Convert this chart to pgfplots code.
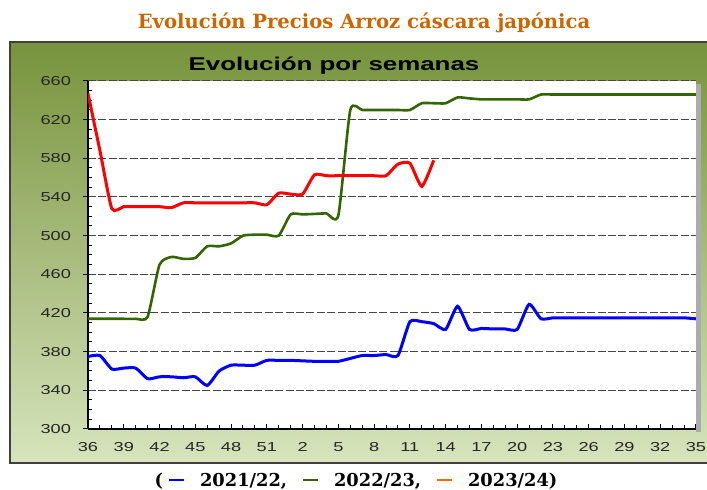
\documentclass[border=0pt]{standalone}
\usepackage{pgfplots}
\pgfplotsset{compat=1.18}
\usepackage{fontspec}
\newfontfamily\tickfont[FakeStretch=1.4]{Liberation Sans}
\newfontfamily\serifbold{DejaVu Serif}
\definecolor{olivetop}{RGB}{119,147,60}
\definecolor{olivebot}{RGB}{215,228,189}
\definecolor{titleor}{RGB}{204,102,0}
\definecolor{ser1}{RGB}{0,0,255}
\definecolor{ser2}{RGB}{51,102,0}
\definecolor{ser3}{RGB}{255,0,0}
\definecolor{legor}{RGB}{255,102,0}
\begin{document}
\begin{tikzpicture}
\begin{scope}[x=0.5pt,y=-0.5pt]
\fill[white] (0,0) rectangle (707,490);
\shade[top color=olivetop, bottom color=olivebot] (10,42) rectangle (707,463);
\draw[black!75, line width=0.6pt] (707,42) -- (10,42) -- (10,463) -- (707,463);
\fill[gray!65] (696,84) rectangle (700.5,432);
\node[font=\tickfont\bfseries\fontsize{9.25}{10}\selectfont, anchor=center] at (334,65.5) {Evolución por semanas};
\node[font=\serifbold\bfseries\fontsize{9.8}{11}\selectfont, text=titleor, anchor=center] at (364,23) {Evolución Precios Arroz cáscara japónica};
\node[font=\serifbold\bfseries\fontsize{8.9}{10}\selectfont, anchor=center] at (356,481) {(\hspace{3pt}\textcolor{ser1}{\rule[2.8pt]{7.5pt}{0.75pt}}\hspace{8pt}2021/22,\hspace{8pt}\textcolor{ser2}{\rule[2.8pt]{7.5pt}{0.75pt}}\hspace{8pt}2022/23,\hspace{8pt}\textcolor{legor}{\rule[2.8pt]{7.5pt}{0.75pt}}\hspace{8pt}2023/24)};
\end{scope}
\begin{axis}[
  at={(44pt,-214.5pt)}, anchor=south west,
  scale only axis, width=304pt, height=174pt,
  xmin=0, xmax=51, ymin=300, ymax=660,
  xtick={0,3,...,51},
  xticklabels={36,39,42,45,48,51,2,5,8,11,14,17,20,23,26,29,32,35},
  minor x tick num=2,
  ytick={300,340,...,660}, minor y tick num=3,
  axis x line*=bottom, axis y line*=left,
  axis line style={-, black, line width=0.6pt},
  tick align=inside, major tick length=2.5pt, minor tick length=2pt,
  tick style={black, line width=0.5pt},
  major y tick style={xshift=-2.5pt},
  ymajorgrids,
  major grid style={dash pattern=on 4pt off 1.2pt, gray!55!black, line width=0.5pt},
  axis background/.style={fill=white},
  /pgf/number format/assume math mode=true,
  tick label style={font=\tickfont\fontsize{6.5}{7}\selectfont, text=black!85},
  yticklabel style={xshift=-5pt},
  xticklabel style={yshift=-3pt},
  every axis plot/.append style={smooth, tension=0.35, no markers},
]
\addplot[ser1, line width=1.5pt] coordinates {
(0,375)(1,376)(2,362)(3,363)(4,363)(5,352)(6,354)(7,354)(8,353)(9,354)
(10,345)(11,360)(12,366)(13,366)(14,366)(15,371)(16,371)(17,371)(18,370.5)(19,370)
(20,370)(21,370)(22,373)(23,376)(24,376)(25,377)(26,376)(27,411)(28,411)(29,409)
(30,403)(31,427)(32,403)(33,404)(34,403.5)(35,403.5)(36,403)(37,429)(38,414)(39,415)
(40,415)(41,415)(42,415)(43,415)(44,415)(45,415)(46,415)(47,415)(48,415)(49,415)
(50,415)(51,414)};
\addplot[ser2, line width=1.3pt] coordinates {
(0,414)(1,414)(2,414)(3,414)(4,414)(5,416)(6,470)(7,478)(8,476)(9,477)
(10,489)(11,489)(12,492)(13,500)(14,501)(15,501)(16,500)(17,522)(18,522)(19,522.5)
(20,523)(21,521)(22,630)(23,630)(24,630)(25,630)(26,630)(27,630)(28,637)(29,637)
(30,637)(31,643)(32,642)(33,641)(34,641)(35,641)(36,641)(37,641)(38,646)(39,646)
(40,646)(41,646)(42,646)(43,646)(44,646)(45,646)(46,646)(47,646)(48,646)(49,646)
(50,646)(51,646)};
\addplot[ser3, line width=1.5pt] coordinates {
(0,647)(1,588)(2,528)(3,530)(4,530)(5,530)(6,530)(7,529)(8,534)(9,534)
(10,534)(11,534)(12,534)(13,534)(14,534)(15,532)(16,544)(17,543)(18,543)(19,563)
(20,562)(21,562)(22,562)(23,562)(24,562)(25,562)(26,574)(27,575)(28,551)(29,578)};
\end{axis}
\pgfresetboundingbox
\useasboundingbox (0,0) rectangle (353.5pt,-245pt);
\end{tikzpicture}
\end{document}
